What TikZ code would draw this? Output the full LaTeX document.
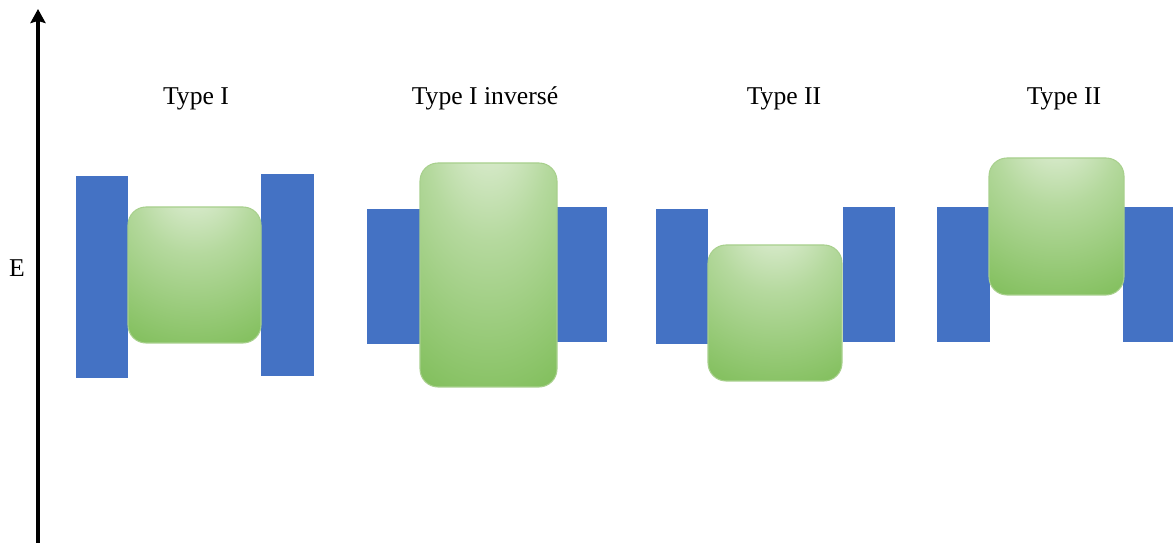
\documentclass[tikz,border=0pt]{standalone}
\usepackage{fontspec}
\setmainfont{Liberation Serif}
\usetikzlibrary{arrows.meta}
\definecolor{bandblue}{HTML}{4472C4}
\definecolor{glight}{HTML}{EAF3E3}
\definecolor{gmid}{HTML}{B5D99E}
\definecolor{gdark}{HTML}{78BA50}
\definecolor{gedge}{HTML}{A8D08D}
\pgfdeclareradialshading{greenglow}{\pgfpoint{0bp}{38bp}}{%
  color(0bp)=(glight); color(22bp)=(gmid); color(55bp)=(gdark); color(100bp)=(gdark)}
\tikzset{
  barrier/.style={fill=bandblue, draw=none},
  well/.style={shading=greenglow, draw=gedge, line width=0.6pt, rounded corners=0.36cm},
  typelabel/.style={font=\fontsize{14.6}{16}\selectfont, inner sep=0pt, anchor=base},
  axis/.style={line width=2pt, -{Stealth[length=2.8mm,width=3mm,inset=0.4mm]}}
}
\begin{document}
\begin{tikzpicture}[x=0.02cm,y=-0.02cm]
\useasboundingbox (0,0) rectangle (1173,543);
% axis
\coordinate (axbot) at (38,543);
\coordinate (axtop) at (38,9);
\draw[axis] (axbot) -- (axtop);
\node[typelabel] (E) at (17,277) {E};
% labels
\node[typelabel] (l1) at (196,105) {Type I};
\node[typelabel] (l2) at (485,105) {Type I invers\'e};
\node[typelabel] (l3) at (784,105) {Type II};
\node[typelabel] (l4) at (1064,105) {Type II};
% group 1
\fill[barrier] (76,176) rectangle (128,378);
\fill[barrier] (261,174) rectangle (314,376);
\shade[well] (128,207) rectangle (261,343);
% group 2
\fill[barrier] (367,209) rectangle (420,344);
\fill[barrier] (557,207) rectangle (607,342);
\shade[well] (420,163) rectangle (557,387);
% group 3
\fill[barrier] (656,209) rectangle (708,344);
\fill[barrier] (843,207) rectangle (895,342);
\shade[well] (708,245) rectangle (842,381);
% group 4
\fill[barrier] (937,207) rectangle (990,342);
\fill[barrier] (1123,207) rectangle (1173,342);
\shade[well] (989,158) rectangle (1124,295);
\end{tikzpicture}
\end{document}
